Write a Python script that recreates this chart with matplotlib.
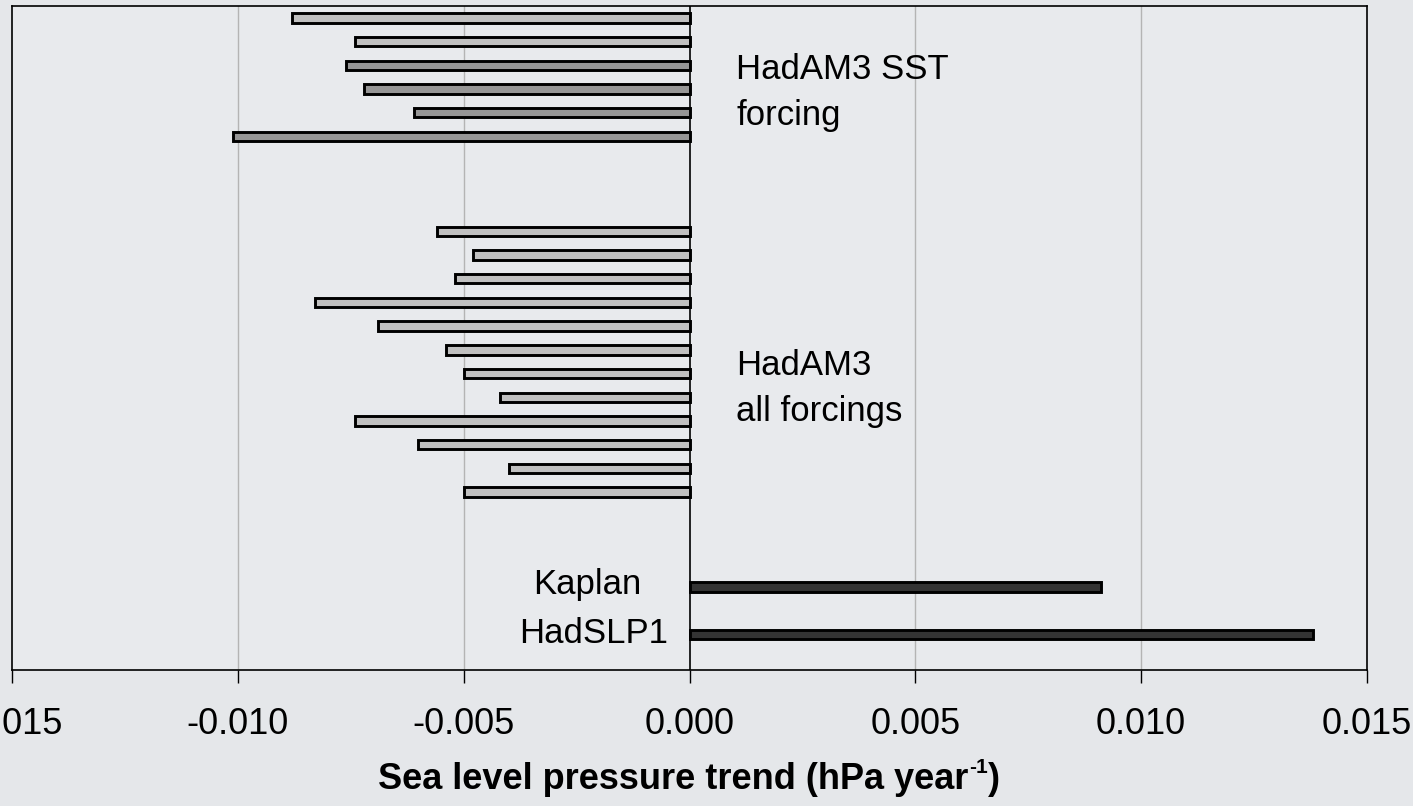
import matplotlib
matplotlib.use("Agg")
import matplotlib.pyplot as plt

plt.rcParams['font.family'] = ['Liberation Sans', 'DejaVu Sans']

# Data
sst_values = [-0.0088, -0.0074, -0.0076, -0.0072, -0.0061, -0.0101]
sst_colors = ['#c0c0c0', '#c0c0c0', '#969696', '#969696', '#969696', '#969696']
all_values = [-0.0056, -0.0048, -0.0052, -0.0083, -0.0069, -0.0054,
              -0.0050, -0.0042, -0.0074, -0.0060, -0.0040, -0.0050]
obs_labels = ['Kaplan', 'HadSLP1']
obs_values = [0.0091, 0.0138]
xticks = [-0.015, -0.010, -0.005, 0.000, 0.005, 0.010, 0.015]
xtick_labels = ['-0.015', '-0.010', '-0.005', '0.000', '0.005', '0.010', '0.015']

# category slots (Excel-style blank categories between groups)
sst_pos = list(range(0, 6))
all_pos = list(range(9, 21))
obs_pos = [24, 26]

W, H = 1413, 806
fig = plt.figure(figsize=(W / 100, H / 100), dpi=100)
fig.patch.set_facecolor('#e5e7ea')
ax = fig.add_axes([12 / W, 1 - 670 / H, (1367 - 12) / W, (670 - 6) / H])
ax.set_facecolor('#e8eaed')

bh = 0.40
lw = 2.1
ax.barh(sst_pos, sst_values, height=bh, color=sst_colors, edgecolor='black',
        linewidth=lw, zorder=3)
ax.barh(all_pos, all_values, height=bh, color='#c0c0c0', edgecolor='black',
        linewidth=lw, zorder=3)
ax.barh(obs_pos, obs_values, height=bh, color='#333333', edgecolor='black',
        linewidth=lw, zorder=3)

ax.set_xlim(-0.015, 0.015)
ax.set_ylim(27.5, -0.5)
ax.set_yticks([])
ax.set_xticks(xticks)
ax.set_xticklabels(xtick_labels, fontsize=26)
ax.tick_params(axis='x', direction='out', length=9, width=1, pad=18, colors='black')

# gridlines and zero line
for xv in xticks[1:-1]:
    if xv == 0:
        ax.axvline(0, color='black', linewidth=1.2, zorder=4)
    else:
        ax.axvline(xv, color='#b4b4b4', linewidth=1.0, zorder=1)

for s in ax.spines.values():
    s.set_color('black')
    s.set_linewidth(1.2)

# group annotations
ax.text(0.00103, 3.15, 'HadAM3 SST\nforcing', fontsize=25, ha='left', va='center',
        linespacing=1.5)
ax.text(0.00103, 15.65, 'HadAM3\nall forcings', fontsize=25, ha='left', va='center',
        linespacing=1.5)
ax.text(-0.00226, obs_pos[0] - 0.1, obs_labels[0], fontsize=25, ha='center', va='center')
ax.text(-0.00212, obs_pos[1] - 0.05, obs_labels[1], fontsize=25, ha='center', va='center')

# x-axis title with a small raised "-1"
yb = (H - 789) / H
t1 = fig.text(0, yb, 'Sea level pressure trend (hPa year', fontsize=26,
              fontweight='bold', ha='left', va='baseline')
t2 = fig.text(0, yb + 16 / H, '-1', fontsize=15, fontweight='bold', ha='left',
              va='baseline')
t3 = fig.text(0, yb, ')', fontsize=26, fontweight='bold', ha='left', va='baseline')
r = fig.canvas.get_renderer()
w1 = t1.get_window_extent(r).width
w2 = t2.get_window_extent(r).width
w3 = t3.get_window_extent(r).width
x0 = 689 - (w1 + w2 + w3) / 2
t1.set_x(x0 / W)
t2.set_x((x0 + w1) / W)
t3.set_x((x0 + w1 + w2) / W)

fig.savefig('out.png', dpi=100, facecolor=fig.get_facecolor())
